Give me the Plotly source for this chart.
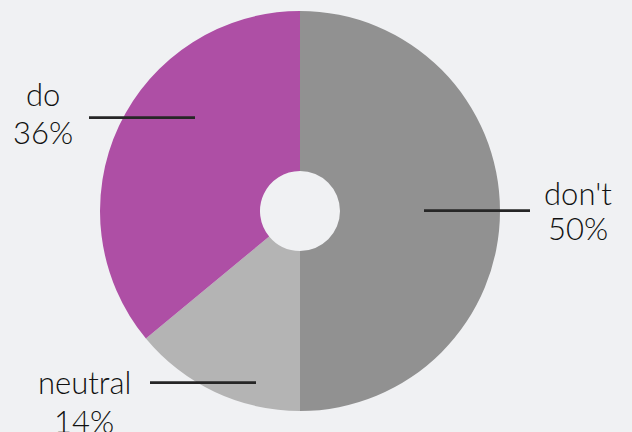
import plotly.graph_objects as go

labels = ["don't", "neutral", "do"]
values = [50, 14, 36]
colors = ["#919191", "#b4b4b4", "#ae4fa5"]

# label placement in pixels: text centre x, name / percent line centres,
# leader line start/end and its y
label_pos = {
    "don't":   dict(tx=578, ny=193, py=228, x0=424, x1=530, ly=210.7),
    "neutral": dict(tx=84,  ny=382, py=421, x0=150, x1=256, ly=382.7),
    "do":      dict(tx=43,  ny=94,  py=131.5, x0=89, x1=195, ly=117.7),
}

W, H = 632, 432
L, R, T, B = 100, 132, 11, 21
bg = "#f0f1f3"
font = dict(size=31, color="#111111", family="Lato", weight=300)


def px_to_paper(x, y):
    return (x - L) / (W - L - R), (H - B - y) / (H - T - B)


fig = go.Figure()
fig.add_trace(go.Pie(
    labels=labels, values=values,
    marker=dict(colors=colors, line=dict(width=0)),
    sort=False, direction="clockwise", rotation=0,
    hole=0.2, textinfo="none", hoverinfo="label+percent",
))

total = sum(values)
for lab, val in zip(labels, values):
    p = label_pos[lab]
    for txt, yy in [(lab, p["ny"]), ("{}%".format(round(val / total * 100)), p["py"])]:
        tx, ty = px_to_paper(p["tx"], yy)
        fig.add_annotation(
            x=tx, y=ty, xref="paper", yref="paper", text=txt,
            showarrow=False, xanchor="center", yanchor="middle", font=font,
        )
    lx0, ly = px_to_paper(p["x0"], p["ly"])
    lx1, _ = px_to_paper(p["x1"], p["ly"])
    fig.add_shape(type="line", xref="paper", yref="paper",
                  x0=lx0, x1=lx1, y0=ly, y1=ly,
                  line=dict(color="#262626", width=2.7))

fig.update_layout(
    width=W, height=H,
    margin=dict(l=L, r=R, t=T, b=B),
    paper_bgcolor=bg, plot_bgcolor=bg,
    showlegend=False,
)

fig.write_html("out.html", config={"displayModeBar": False},
               post_script="document.body.style.margin='0';"
                           "document.body.style.background='" + bg + "';")
